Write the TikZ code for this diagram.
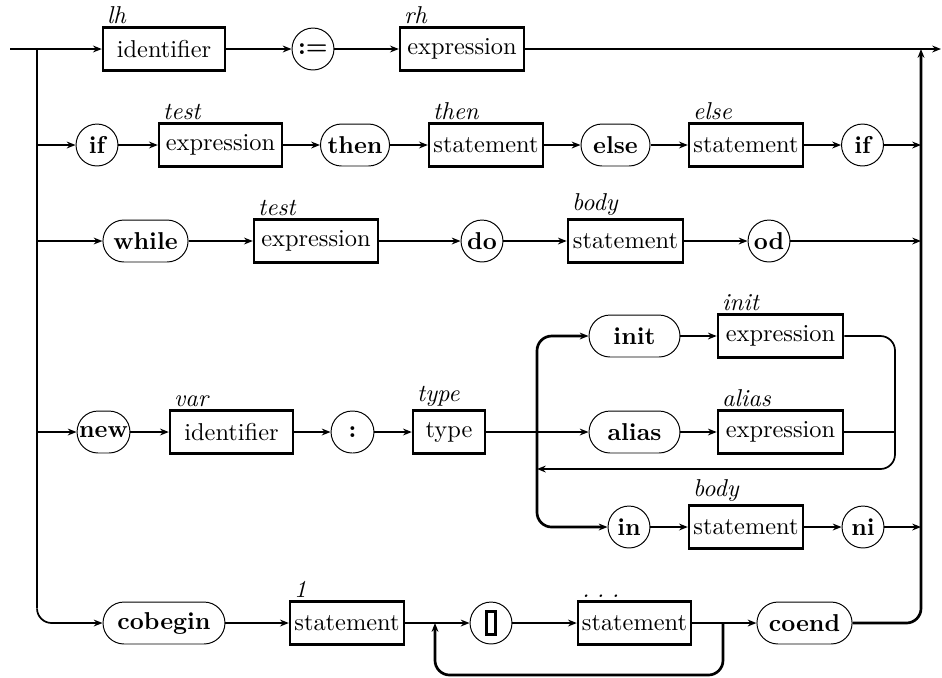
\documentclass[tikz,border=0pt]{standalone}
\usetikzlibrary{arrows.meta,positioning}
\tikzset{
      arr/.style = {-{Stealth[length=3.6pt,width=2.8pt]}},
     rail/.style = {line width=1.1pt},
     wire/.style = {line width=0.7pt},
    nterm/.style = {draw, line width=1pt, rectangle, minimum width=#1,
                    minimum height=17.6pt, inner sep=1pt},
    nterm/.default = 47pt,
     term/.style = {draw, thin, rectangle, rounded corners=8.6pt,
                    minimum width=#1, minimum height=17.2pt,
                    inner sep=0pt, font=\bfseries},
     term/.default = 17.2pt,
     attr/.style = {font=\itshape, anchor=south west, inner sep=1pt, xshift=1pt},
}
\newcommand{\guard}{{\setlength{\fboxsep}{0pt}\setlength{\fboxrule}{1.2pt}%
  \fbox{\rule{0pt}{8.2pt}\hspace{2.2pt}}}}
\begin{document}
\begin{tikzpicture}[x=0.41pt,y=-0.41pt]
\useasboundingbox (0,0) rectangle (942,677);
% rails
\coordinate (start) at (10,49);
\coordinate (stop)  at (941,49);
\coordinate (L1)    at (37,49);
\coordinate (R1)    at (921,49);
% assignment
\node[nterm=50pt]   (id1)   at (164,49)   {identifier};
\node[term]         (asgn)  at (313,49)   {:=};
\node[nterm=50.8pt] (expr1) at (462,49)   {expression};
% if
\node[term]         (if1)   at (97,145)   {if};
\node[nterm=50.4pt] (expr2) at (220.5,145) {expression};
\node[term=28.3pt]  (then)  at (355,145)  {then};
\node[nterm=46.7pt] (stmt2) at (486,145)  {statement};
\node[term=28.3pt]  (else)  at (615.5,145) {else};
\node[nterm=46.7pt] (stmt3) at (746,145)  {statement};
\node[term]         (if2)   at (862.5,145) {if};
% while
\node[term=34.9pt]  (while) at (145.5,241) {while};
\node[nterm=50.8pt] (expr3) at (316,241)  {expression};
\node[term]         (do)    at (482,241)  {do};
\node[nterm=47.2pt] (stmt4) at (625.5,241) {statement};
\node[term]         (od)    at (769,241)  {od};
% new
\node[term=21.7pt]  (new)   at (103.5,432) {new};
\node[nterm=50.4pt] (id2)   at (231.5,432) {identifier};
\node[term=17.6pt]  (colon) at (352.5,432) {:};
\node[nterm=29.5pt] (type)  at (449,432)  {type};
\coordinate (B)   at (537,432);
\coordinate (ret) at (895,469);
\node[term=37.3pt]  (init)  at (634.5,336) {init};
\node[nterm=51.3pt] (expr4) at (780.5,336) {expression};
\node[term=37.3pt]  (alias) at (634.5,432) {alias};
\node[nterm=51.3pt] (expr5) at (780.5,432) {expression};
\node[term]         (in)    at (629,527)  {in};
\node[nterm=46.7pt] (stmt5) at (746,527)  {statement};
\node[term]         (ni)    at (863,527)  {ni};
% cobegin
\node[term=50pt]    (cobeg) at (164,623)  {cobegin};
\node[nterm=46.7pt] (stmt6) at (347,623)  {statement};
\coordinate (J) at (435,623);
\coordinate (K) at (723,675);
\node[term]         (box)   at (491,623)  {\guard};
\node[nterm=46.3pt] (stmt7) at (634.5,623) {statement};
\node[term=39pt]    (coend) at (804.5,623) {coend};
% attribute labels
\node[attr] at (id1.north west)   {lh};
\node[attr] at (expr1.north west) {rh};
\node[attr] at (expr2.north west) {test};
\node[attr] at (stmt2.north west) {then};
\node[attr] at (stmt3.north west) {else};
\node[attr] at (expr3.north west) {test};
\node[attr] at (stmt4.north west) {body};
\node[attr] at (id2.north west)   {var};
\node[attr] at (type.north west)  {type};
\node[attr] at (expr4.north west) {init};
\node[attr] at (expr5.north west) {alias};
\node[attr] at (stmt5.north west) {body};
\node[attr] at (stmt6.north west) {1};
\node[attr] at (stmt7.north west) {.\kern3pt.\kern3pt.};
% connectors
\draw[rail,arr] (start) -- (id1);
\draw[rail,arr] (id1) -- (asgn);
\draw[rail,arr] (asgn) -- (expr1);
\draw[rail,arr] (expr1) -- (stop);
\draw[rail,rounded corners=6pt] (L1) -- ([yshift=6pt]L1 |- cobeg);
\draw[wire,arr,rounded corners=6pt] ([yshift=6pt]L1 |- cobeg) |- (cobeg);
\draw[rail,arr,rounded corners=6pt] (coend) -| (R1);
\draw[wire,arr] (L1 |- if1) -- (if1);
\draw[wire,arr] (if1) -- (expr2);
\draw[wire,arr] (expr2) -- (then);
\draw[wire,arr] (then) -- (stmt2);
\draw[wire,arr] (stmt2) -- (else);
\draw[wire,arr] (else) -- (stmt3);
\draw[wire,arr] (stmt3) -- (if2);
\draw[wire,arr] (if2) -- (if2 -| R1);
\draw[wire,arr] (L1 |- while) -- (while);
\draw[wire,arr] (while) -- (expr3);
\draw[wire,arr] (expr3) -- (do);
\draw[wire,arr] (do) -- (stmt4);
\draw[wire,arr] (stmt4) -- (od);
\draw[wire,arr] (od) -- (od -| R1);
\draw[wire,arr] (L1 |- new) -- (new);
\draw[wire,arr] (new) -- (id2);
\draw[wire,arr] (id2) -- (colon);
\draw[wire,arr] (colon) -- (type);
\draw[wire,arr] (type) -- (alias);
\draw[rail,arr,rounded corners=6pt] (B) |- (init);
\draw[rail,arr,rounded corners=6pt] (B) |- (in);
\draw[wire,arr] (init) -- (expr4);
\draw[wire,arr] (alias) -- (expr5);
\draw[wire,arr,rounded corners=6pt] (expr4) -| (ret) -- (ret -| B);
\draw[wire] (expr5) -- (expr5 -| ret);
\draw[wire,arr] (in) -- (stmt5);
\draw[wire,arr] (stmt5) -- (ni);
\draw[wire,arr] (ni) -- (ni -| R1);
\draw[wire,arr] (cobeg) -- (stmt6);
\draw[wire,arr] (stmt6) -- (box);
\draw[wire,arr] (box) -- (stmt7);
\draw[wire,arr] (stmt7) -- (coend);
\draw[rail,arr,rounded corners=6pt] (stmt7 -| K) |- (K -| J) -- (J);
\end{tikzpicture}
\end{document}
